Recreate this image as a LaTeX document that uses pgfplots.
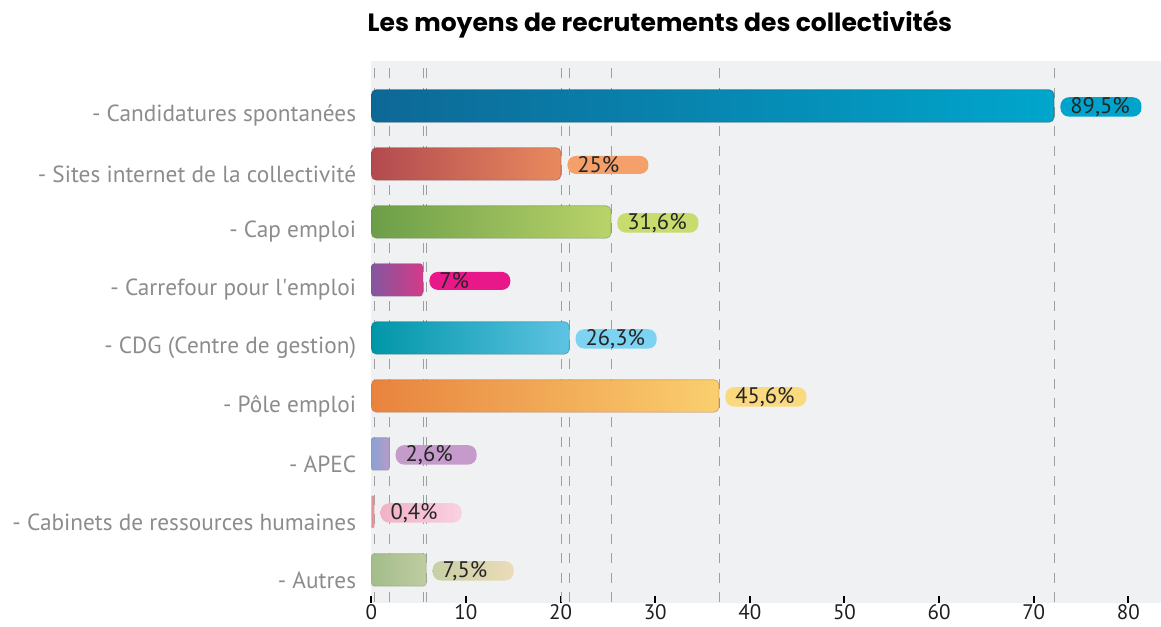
\documentclass[border=0pt]{standalone}
\usepackage{fontspec}
\setmainfont{PT Sans}
\newfontfamily\titlefont{Poppins}
\usepackage{pgfplots}
\pgfplotsset{compat=1.18}
\definecolor{bgg}{HTML}{F0F1F3}
\definecolor{lbl}{HTML}{8C8C8C}
\definecolor{aL}{HTML}{0E6896}\definecolor{aR}{HTML}{00A6CC}\definecolor{aP}{HTML}{00A3CB}
\definecolor{bL}{HTML}{B24A4F}\definecolor{bR}{HTML}{E88A5E}\definecolor{bP}{HTML}{F5A06A}
\definecolor{cL}{HTML}{6C9E48}\definecolor{cR}{HTML}{BAD36A}\definecolor{cP}{HTML}{C6DC6C}
\definecolor{dL}{HTML}{83579E}\definecolor{dR}{HTML}{D43A88}\definecolor{dP}{HTML}{E8178A}
\definecolor{eL}{HTML}{0096A8}\definecolor{eR}{HTML}{5EC3E3}\definecolor{eP}{HTML}{7DD3F2}
\definecolor{fL}{HTML}{E8833E}\definecolor{fR}{HTML}{FACF6E}\definecolor{fP}{HTML}{FBD97E}
\definecolor{gL}{HTML}{8AA2D2}\definecolor{gR}{HTML}{B69BC9}\definecolor{gP}{HTML}{C59BCB}
\definecolor{hL}{HTML}{E3959E}\definecolor{hR}{HTML}{E8A2AB}\definecolor{hPL}{HTML}{F2B2C6}\definecolor{hPR}{HTML}{F9D0E2}
\definecolor{iL}{HTML}{A2BD8A}\definecolor{iR}{HTML}{C0CCA2}\definecolor{iPL}{HTML}{C8CFA4}\definecolor{iPR}{HTML}{EBDCB9}
\begin{document}
\begin{tikzpicture}
\useasboundingbox (-371.3pt,-23pt) rectangle (789.7pt,603pt);
\begin{axis}[
  at={(0pt,0pt)}, anchor=south west,
  scale only axis, width=789.7pt, height=542pt,
  xmin=0, xmax=83.45,
  ymin=-0.571, ymax=8.775,
  xbar, bar width=32.5pt, bar shift=0pt,
  axis background/.style={fill=bgg},
  axis line style={draw=none},
  axis x line*=bottom, axis y line*=left,
  xtick={0,10,...,80},
  ytick={0,...,8},
  yticklabels={- Autres, - Cabinets de ressources humaines, - APEC, - Pôle emploi, - CDG (Centre de gestion), - Carrefour pour l\textquotesingle emploi, - Cap emploi, - Sites internet de la collectivité, - Candidatures spontanées},
  ytick style={draw=none},
  xtick style={black, line width=2pt},
  tick align=inside, major tick length=7pt,
  /pgf/number format/assume math mode=true,
  xticklabel style={font=\fontsize{21}{22}\selectfont, text=black!88, inner sep=0pt, yshift=-1.5pt},
  yticklabel style={font=\fontsize{23.3}{26}\selectfont, text=lbl, inner sep=0pt, xshift=-15pt, yshift=-10pt},
  extra x ticks={0.32,1.90,5.46,5.81,20.05,20.92,25.33,36.74,72.15},
  extra x tick labels={},
  extra x tick style={grid=major, major tick length=0pt, tick style={draw=none},
     major grid style={gray!75, line width=0.9pt, dash pattern=on 10pt off 9.4pt, dash phase=-1pt}},
  title={\titlefont\bfseries\fontsize{25}{30}\selectfont Les moyens de recrutements des collectivités},
  title style={at={(0.3655,1)}, anchor=base, yshift=23pt},
  every node near coord/.append style={anchor=west, xshift=6pt, rounded corners=8.5pt,
     minimum height=18pt, text width=61pt, inner xsep=10pt, inner ysep=0pt, align=left,
     font=\fontsize{22.5}{20}\selectfont, text=black!85, yshift=-1pt},
]
\addplot[left color=aL, right color=aR, draw=aL!70!black, draw opacity=0.5, line width=0.8pt, rounded corners=5pt,
  nodes near coords={89,5\%}, every node near coord/.append style={fill=aP}] coordinates {(72.15,8)};
\addplot[left color=bL, right color=bR, draw=bL!70!black, draw opacity=0.4, line width=0.8pt, rounded corners=5pt,
  nodes near coords={25\%}, every node near coord/.append style={fill=bP}] coordinates {(20.05,7)};
\addplot[left color=cL, right color=cR, draw=cL!70!black, draw opacity=0.4, line width=0.8pt, rounded corners=5pt,
  nodes near coords={31,6\%}, every node near coord/.append style={fill=cP}] coordinates {(25.33,6)};
\addplot[left color=dL, right color=dR, draw=dL!70!black, draw opacity=0.3, line width=0.8pt, rounded corners=3pt,
  nodes near coords={7\%}, every node near coord/.append style={fill=dP}] coordinates {(5.46,5)};
\addplot[left color=eL, right color=eR, draw=eL!70!black, draw opacity=0.4, line width=0.8pt, rounded corners=5pt,
  nodes near coords={26,3\%}, every node near coord/.append style={fill=eP}] coordinates {(20.92,4)};
\addplot[left color=fL, right color=fR, draw=fL!70!black, draw opacity=0.4, line width=0.8pt, rounded corners=5pt,
  nodes near coords={45,6\%}, every node near coord/.append style={fill=fP}] coordinates {(36.74,3)};
\addplot[left color=gL, right color=gR, draw=gL!70!black, draw opacity=0.3, line width=0.8pt, rounded corners=2pt,
  nodes near coords={2,6\%}, every node near coord/.append style={fill=gP}] coordinates {(1.90,2)};
\addplot[fill=hL, draw=none, rounded corners=1pt,
  nodes near coords={0,4\%}, every node near coord/.append style={left color=hPL, right color=hPR}] coordinates {(0.32,1)};
\addplot[left color=iL, right color=iR, draw=iL!70!black, draw opacity=0.3, line width=0.8pt, rounded corners=3pt,
  nodes near coords={7,5\%}, every node near coord/.append style={left color=iPL, right color=iPR}] coordinates {(5.81,0)};
\end{axis}
\end{tikzpicture}
\end{document}
